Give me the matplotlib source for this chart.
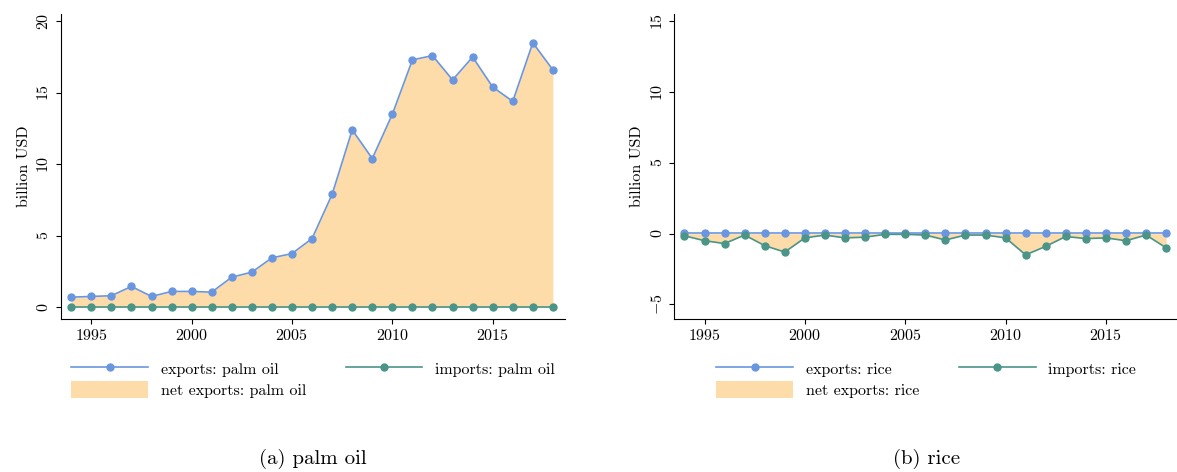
import matplotlib
matplotlib.use("Agg")
import matplotlib.pyplot as plt
import numpy as np

plt.rcParams['font.family'] = 'cmr10'
plt.rcParams['mathtext.fontset'] = 'cm'
plt.rcParams['axes.formatter.use_mathtext'] = True
plt.rcParams['font.size'] = 11.5

years = np.arange(1994, 2019)
palm_exports = [0.7, 0.75, 0.8, 1.45, 0.75, 1.1, 1.1, 1.05, 2.1, 2.45, 3.45, 3.75, 4.8,
                7.9, 12.4, 10.4, 13.5, 17.3, 17.6, 15.9, 17.5, 15.4, 14.4, 18.5, 16.6]
palm_imports = [-0.02] * 25
rice_exports = [0.02] * 25
rice_imports = [-0.15, -0.5, -0.7, -0.1, -0.85, -1.3, -0.3, -0.1, -0.3, -0.25, -0.05, -0.05,
                -0.1, -0.45, -0.1, -0.1, -0.3, -1.5, -0.9, -0.2, -0.35, -0.3, -0.5, -0.1, -1.0]

blue = '#6a96e0'
green = '#4a9488'
fill = '#fddcaa'

fig = plt.figure(figsize=(11.77, 4.72), dpi=100)
axes = [fig.add_axes([0.052, 0.325, 0.428, 0.645]),
        fig.add_axes([0.573, 0.325, 0.428, 0.645])]

panels = [("palm oil", palm_exports, palm_imports, (-0.8, 20.5), [0, 5, 10, 15, 20], "(a) palm oil"),
          ("rice", rice_exports, rice_imports, (-6, 15.5), [-5, 0, 5, 10, 15], "(b) rice")]

for ax, (name, ex, im, ylim, yt, cap) in zip(axes, panels):
    ex = np.array(ex); im = np.array(im)
    ax.fill_between(years, ex + im, 0, color=fill, lw=0, label=f"net exports: {name}")
    ax.plot(years, ex, '-o', color=blue, ms=5, lw=1.2, label=f"exports: {name}")
    ax.plot(years, im, '-o', color=green, ms=5, lw=1.2, label=f"imports: {name}")
    ax.set_xlim(1993.5, 2018.6)
    ax.set_ylim(*ylim)
    ax.set_yticks(yt)
    ax.set_xticks([1995, 2000, 2005, 2010, 2015])
    for lab in ax.get_yticklabels():
        lab.set_rotation(90)
        lab.set_va('center')
    ax.set_ylabel("billion USD")
    for s in ['top', 'right']:
        ax.spines[s].set_visible(False)
    h, l = ax.get_legend_handles_labels()
    ax.legend([h[1], h[0], h[2]], [l[1], l[0], l[2]], ncol=2, frameon=False,
              loc='upper center', bbox_to_anchor=(0.5, -0.09), fontsize=11.5,
              handlelength=4.8, columnspacing=2.5, handleheight=1.3, labelspacing=0.2)
    ax.text(0.5, -0.46, cap, transform=ax.transAxes, ha='center', va='center', fontsize=15)

fig.savefig("out.png", dpi=100)
